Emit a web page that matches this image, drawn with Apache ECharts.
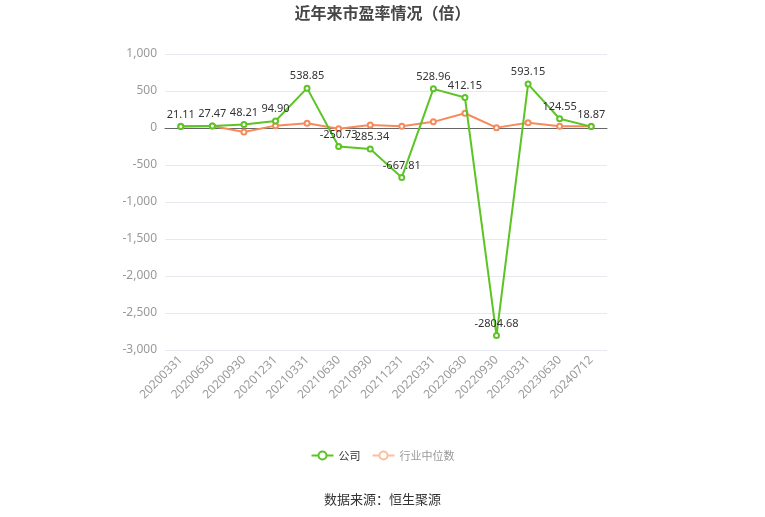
<!DOCTYPE html>
<html><head><meta charset="utf-8">
<script src="https://cdn.jsdelivr.net/npm/echarts@6/dist/echarts.min.js"></script>
<style>html,body{margin:0;padding:0;background:#fff}#c{width:765px;height:517px}</style>
</head><body><div id="c"></div>
<script>
const categories = ['20200331','20200630','20200930','20201231','20210331','20210630','20210930','20211231','20220331','20220630','20220930','20230331','20230630','20240712'];
const companyPE = [21.11, 27.47, 48.21, 94.90, 538.85, -250.73, -285.34, -667.81, 528.96, 412.15, -2804.68, 593.15, 124.55, 18.87];
const industryPE = [23, 28, -55, 32, 65, -9, 42, 23, 83, 199, 5, 70, 23, 23];
const yTicks = {min: -3000, max: 1000, interval: 500};

const chart = echarts.init(document.getElementById('c'));
chart.setOption({
  animation: false,
  title: {text: '近年来市盈率情况（倍）', left: 'center', top: 0,
    textStyle: {fontSize: 16, fontWeight: 'bold', color: '#464646', fontFamily: 'Noto Sans CJK SC'}},
  grid: {left: 165, right: 158, top: 54, bottom: 167},
  legend: {bottom: 51, left: 'center', itemWidth: 22, itemHeight: 10, itemGap: 11,
    textStyle: {fontSize: 11, fontFamily: 'Noto Sans CJK SC'},
    data: [{name: '公司', textStyle: {color: '#333'}},
      {name: '行业中位数', textStyle: {color: '#999'},
        lineStyle: {color: '#fbbfa3'}, itemStyle: {color: '#fbbfa3'}}]},
  graphic: [{type: 'text', left: 'center', top: 493,
    style: {text: '数据来源：恒生聚源', fontSize: 13, fill: '#333', fontFamily: 'Noto Sans CJK SC'}}],
  xAxis: {type: 'category', data: categories, boundaryGap: true,
    axisLine: {lineStyle: {color: '#666'}}, axisTick: {alignWithLabel: true, lineStyle: {color: '#666'}},
    axisLabel: {rotate: 45, color: '#999', fontSize: 12, interval: 0, fontFamily: 'Noto Sans'}},
  yAxis: {type: 'value', min: yTicks.min, max: yTicks.max, interval: yTicks.interval,
    axisLine: {show: false}, axisTick: {show: false},
    axisLabel: {color: '#999', fontSize: 12, fontFamily: 'Noto Sans', formatter: v => v.toLocaleString('en-US')},
    splitLine: {lineStyle: {color: '#e6e9f0'}}},
  series: [
    {name: '公司', type: 'line', data: companyPE, symbol: 'emptyCircle', symbolSize: 5, z: 3,
      itemStyle: {color: '#5cc424'}, lineStyle: {width: 2, color: '#5cc424'},
      label: {show: true, position: 'top', distance: 3, color: '#333', fontSize: 11, fontFamily: 'Noto Sans',
        formatter: p => p.value.toFixed(2)}},
    {name: '行业中位数', type: 'line', data: industryPE, symbol: 'emptyCircle', symbolSize: 5, z: 2,
      itemStyle: {color: '#f7895a'}, lineStyle: {width: 2, color: '#f7895a'}}
  ]
});
</script></body></html>
